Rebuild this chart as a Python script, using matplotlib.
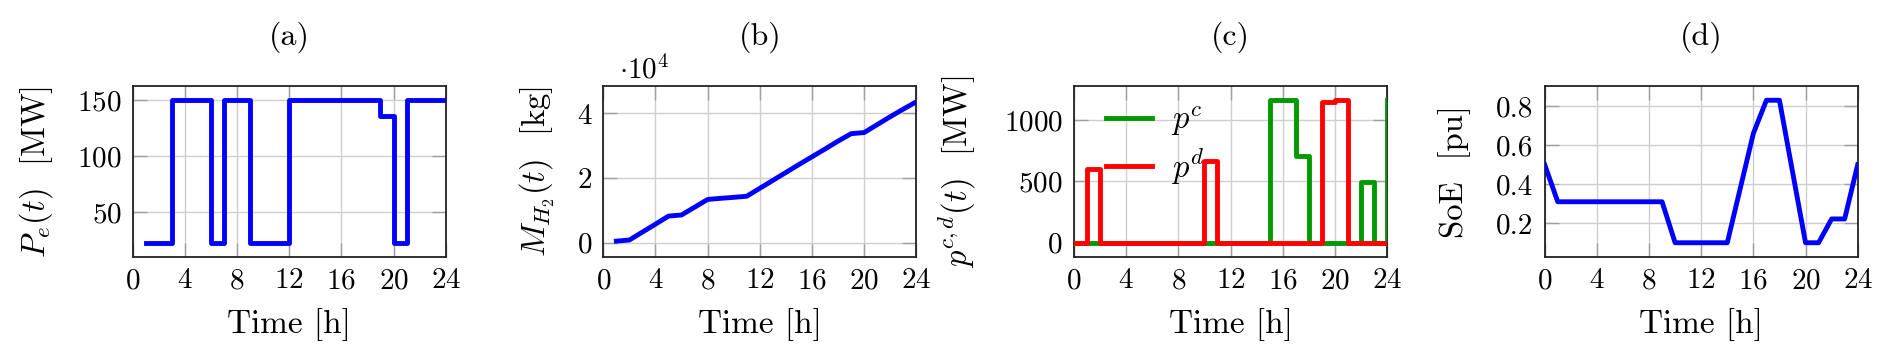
import matplotlib
matplotlib.use("Agg")
import matplotlib.pyplot as plt
from matplotlib.ticker import FixedLocator, FuncFormatter

# ---------------- data ----------------
hours_a = list(range(1, 25))
p_e = [22.5, 22.5, 150, 150, 150, 22.5, 150, 150, 22.5, 22.5, 22.5, 150,
       150, 150, 150, 150, 150, 150, 136, 22.5, 150, 150, 150, 150]

hours_b = list(range(1, 25))
m_h2 = [500, 850, 3300, 5750, 8250, 8600, 11000, 13400, 13750, 14050, 14400, 16850,
        19300, 21750, 24200, 26600, 29000, 31450, 33750, 34100, 36550, 39000, 41350, 43600]

hours_c = list(range(0, 25))
p_c = [0, 0, 0, 0, 0, 0, 0, 0, 0, 0, 0, 0, 0, 0, 0, 1160, 1160, 705, 0, 0, 0, 0, 495, 0, 1160]
p_d = [0, 600, 0, 0, 0, 0, 0, 0, 0, 0, 665, 0, 0, 0, 0, 0, 0, 0, 0, 1145, 1160, 0, 0, 0, 0]

hours_d = list(range(0, 25))
soe = [0.50, 0.31, 0.31, 0.31, 0.31, 0.31, 0.31, 0.31, 0.31, 0.31, 0.10, 0.10, 0.10,
       0.10, 0.10, 0.38, 0.66, 0.83, 0.83, 0.465, 0.10, 0.10, 0.222, 0.222, 0.50]

x_ticks = [0, 4, 8, 12, 16, 20, 24]
titles = ["(a)", "(b)", "(c)", "(d)"]

# ---------------- style ----------------
plt.rcParams["font.family"] = ["cmr10", "DejaVu Serif"]
plt.rcParams["mathtext.fontset"] = "cm"
plt.rcParams["axes.formatter.use_mathtext"] = True

TICK_FS = 21
LABEL_FS = 23.5
TITLE_FS = 23
LW = 3.5
BLUE = (0, 0, 1)
RED = (1, 0, 0)
GREEN = (0, 0.6, 0)

W, H = 1892, 362
fig = plt.figure(figsize=(W / 100, H / 100), dpi=100)

lefts_px = [132.7, 603.3, 1074.0, 1544.7]
top_px, bot_px, width_px = 86, 257, 313
axes = []
for lp in lefts_px:
    ax = fig.add_axes([lp / W, 1 - bot_px / H, width_px / W, (bot_px - top_px) / H])
    axes.append(ax)


def style(ax, title, ylabel, ylab_x):
    ax.set_xlim(0, 24)
    ax.xaxis.set_major_locator(FixedLocator(x_ticks))
    ax.grid(True, color="#cfcfcf", linewidth=1.0, zorder=0)
    ax.set_axisbelow(True)
    for s in ax.spines.values():
        s.set_linewidth(1.3)
        s.set_color("#222222")
    ax.tick_params(direction="in", length=10, width=1.0, color="#a0a0a0",
                   top=True, right=True, labelsize=TICK_FS, pad=8)
    ax.set_xlabel("Time [h]", fontsize=LABEL_FS + 0.5)
    ax.xaxis.set_label_coords(0.5, -0.30)
    ax.set_ylabel(ylabel, fontsize=LABEL_FS)
    ax.yaxis.label.set_va("center")
    ax.yaxis.set_label_coords(ylab_x, 0.5)
    ax.text(0.5, 1.288, title, transform=ax.transAxes, ha="center", va="center",
            fontsize=TITLE_FS)


def enlarge(ax, lo, hi):
    r = hi - lo
    ax.set_ylim(lo - 0.1 * r, hi + 0.1 * r)


# (a)
ax = axes[0]
ax.step(hours_a, p_e, where="post", color=BLUE, lw=LW, zorder=3)
enlarge(ax, min(p_e), max(p_e))
ax.yaxis.set_major_locator(FixedLocator([50, 100, 150]))
style(ax, titles[0], r"$P_e(t)$  [MW]", -0.309)

# (b)
ax = axes[1]
ax.plot(hours_b, m_h2, color=BLUE, lw=LW, zorder=3)
enlarge(ax, 0, max(m_h2) + 500)
ax.yaxis.set_major_locator(FixedLocator([0, 20000, 40000]))
ax.yaxis.set_major_formatter(FuncFormatter(lambda v, p: f"{v/1e4:g}"))
style(ax, titles[1], r"$M_{H_2}(t)$  [kg]", -0.212)
ax.text(0.05, 1.01, r"$\cdot 10^4$", transform=ax.transAxes, ha="left", va="bottom",
        fontsize=TICK_FS)

# (c)
ax = axes[2]
ax.step(hours_c, p_c, where="post", color=GREEN, lw=LW, zorder=3, label=r"$p^c$")
ax.step(hours_c, p_d, where="post", color=RED, lw=LW, zorder=4, label=r"$p^d$")
enlarge(ax, 0, max(p_c + p_d))
ax.yaxis.set_major_locator(FixedLocator([0, 500, 1000]))
style(ax, titles[2], r"$p^{c,d}(t)$  [MW]", -0.374)
leg = ax.legend(loc="upper left", bbox_to_anchor=(0.06, 0.97), frameon=False,
                fontsize=LABEL_FS, handlelength=1.4, handletextpad=0.6,
                labelspacing=0.25, borderaxespad=0.0)

# (d)
ax = axes[3]
ax.plot(hours_d, soe, color=BLUE, lw=LW, zorder=3)
enlarge(ax, min(soe), max(soe))
ax.yaxis.set_major_locator(FixedLocator([0.2, 0.4, 0.6, 0.8]))
ax.yaxis.set_major_formatter(FuncFormatter(lambda v, p: f"{v:.1f}"))
style(ax, titles[3], r"SoE  [pu]", -0.287)

fig.savefig("out.png", dpi=100)
